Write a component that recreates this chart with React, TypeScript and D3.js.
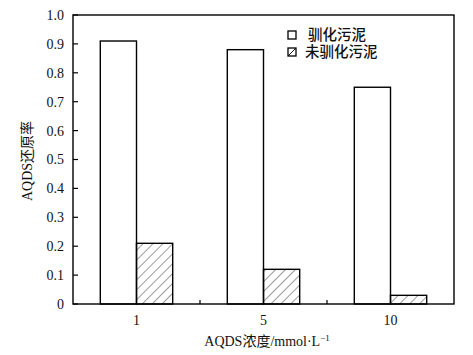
import React from "react";
import * as d3 from "d3";

const categories = ["1", "5", "10"];
const acclimated = [0.91, 0.88, 0.75];
const unacclimated = [0.21, 0.12, 0.03];
const yTicks = [0, 0.1, 0.2, 0.3, 0.4, 0.5, 0.6, 0.7, 0.8, 0.9, 1.0];
const yTickLabels = ["0", "0.1", "0.2", "0.3", "0.4", "0.5", "0.6", "0.7", "0.8", "0.9", "1.0"];
const seriesNames = ["驯化污泥", "未驯化污泥"];

const W = 473, H = 355;
const left = 73, right = 454, top = 15, bottom = 304;
const FONT = "'Liberation Serif', 'Times New Roman', 'Noto Sans CJK SC', serif";

export default function App() {
  const x = d3.scaleBand().domain(categories).range([left, right]).paddingInner(0).paddingOuter(0);
  const y = d3.scaleLinear().domain([0, 1]).range([bottom, top]);
  const bw = x.bandwidth() * 0.285;
  const boundaries = categories.slice(1).map((c) => x(c) as number);

  return (
    <svg width={W} height={H} style={{ position: "absolute", left: 0, top: 0, background: "#fff" }} fontFamily={FONT}>
      <defs>
        <pattern id="hatch" patternUnits="userSpaceOnUse" width={7} height={7} patternTransform="rotate(45)">
          <line x1={0} y1={0} x2={0} y2={7} stroke="#222" strokeWidth={0.9} />
        </pattern>
      </defs>
      <rect x={0} y={0} width={W} height={H} fill="#fff" />
      {categories.map((c, i) => {
        const cx = (x(c) as number) + x.bandwidth() / 2;
        return (
          <g key={c}>
            <rect x={cx - bw} y={y(acclimated[i])} width={bw} height={bottom - y(acclimated[i])} fill="#fff" stroke="#000" strokeWidth={1.4} />
            <rect x={cx} y={y(unacclimated[i])} width={bw} height={bottom - y(unacclimated[i])} fill="url(#hatch)" stroke="#000" strokeWidth={1.4} />
          </g>
        );
      })}
      {/* frame */}
      <rect x={left} y={top} width={right - left} height={bottom - top} fill="none" stroke="#000" strokeWidth={1.4} />
      {/* y ticks */}
      {yTicks.map((t, i) => (
        <g key={i}>
          <line x1={left} x2={left + 5} y1={y(t)} y2={y(t)} stroke="#000" strokeWidth={1.2} />
          <text x={left - 9} y={y(t)} dy="0.35em" textAnchor="end" fontSize={14} fill="#111">{yTickLabels[i]}</text>
        </g>
      ))}
      {/* x ticks */}
      {boundaries.map((bx, i) => (
        <line key={i} x1={bx} x2={bx} y1={bottom} y2={bottom - 4} stroke="#000" strokeWidth={1.2} />
      ))}
      {categories.map((c) => (
        <text key={c} x={(x(c) as number) + x.bandwidth() / 2} y={325} textAnchor="middle" fontSize={14} fill="#111">{c}</text>
      ))}
      {/* axis titles */}
      <text x={267} y={346} textAnchor="middle" fontSize={14} fill="#111">
        AQDS浓度/mmol·L<tspan dy={-5} fontSize={9}>−1</tspan>
      </text>
      <text transform="translate(32,161) rotate(-90)" textAnchor="middle" fontSize={14} fill="#111">AQDS还原率</text>
      {/* legend */}
      <rect x={288} y={31} width={8} height={8} fill="#fff" stroke="#000" strokeWidth={1.3} />
      <text x={308} y={35} dy="0.36em" fontSize={14.5} fontWeight={500} fill="#111">{seriesNames[0]}</text>
      <rect x={288} y={48} width={8} height={8} fill="#fff" stroke="#000" strokeWidth={1.3} />
      <line x1={288} y1={56} x2={296} y2={48} stroke="#000" strokeWidth={0.9} />
      <text x={305} y={52} dy="0.36em" fontSize={14.5} fontWeight={500} fill="#111">{seriesNames[1]}</text>
    </svg>
  );
}
